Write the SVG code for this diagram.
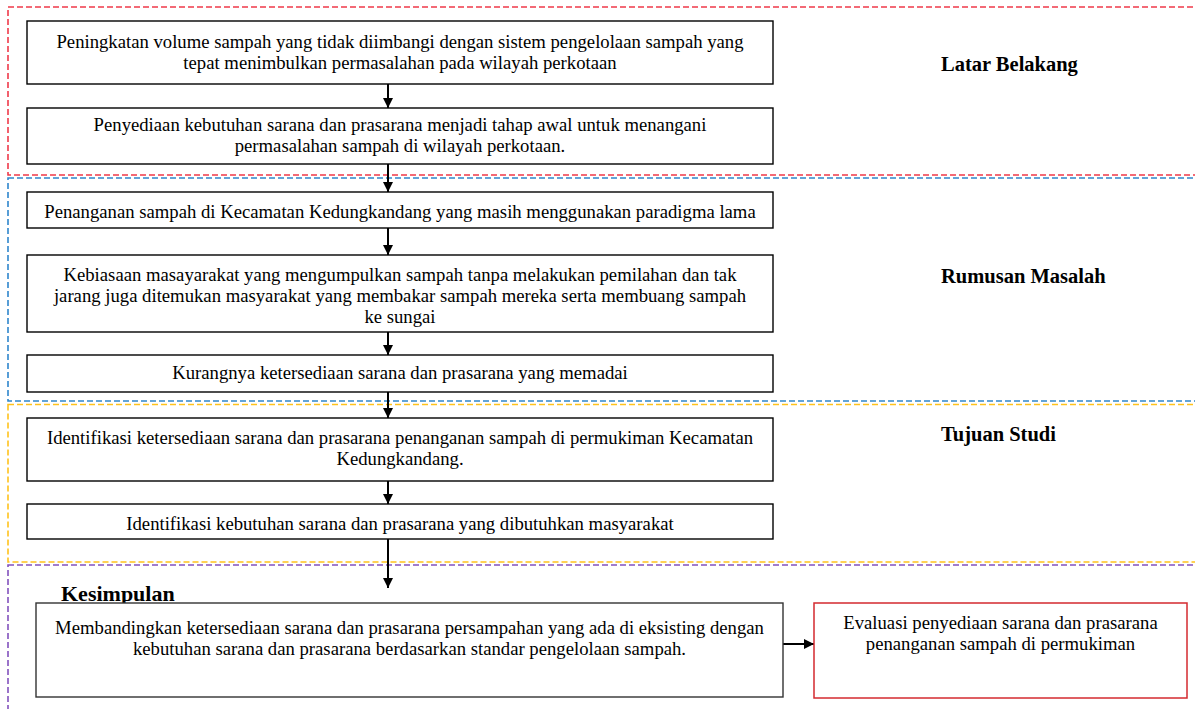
<svg xmlns="http://www.w3.org/2000/svg" width="1195" height="709" viewBox="0 0 1195 709">
<defs>
<style>
.zone{fill:none;stroke-width:1.6;stroke-dasharray:6 3}
.box{fill:#fff;stroke:#000;stroke-width:1.4}
.t{font-family:"Liberation Serif","Times New Roman",serif;font-size:18.7px;fill:#000;text-anchor:middle}
.lbl{font-family:"Liberation Serif","Times New Roman",serif;font-size:20.5px;font-weight:bold;fill:#000}
.conn{stroke:#000;stroke-width:2;fill:none;marker-end:url(#ah)}
</style>
<marker id="ah" markerUnits="userSpaceOnUse" markerWidth="11" markerHeight="11" refX="10" refY="5" orient="auto">
<path d="M0,0 L10,5 L0,10 z" fill="#000"/>
</marker>
</defs>
<rect width="1195" height="709" fill="#fff"/>
<g id="zones">
<rect class="zone" x="8" y="7" width="1200" height="168" stroke="#ef3a4a"/>
<rect class="zone" x="8" y="178" width="1200" height="223" stroke="#2f86cc"/>
<rect class="zone" x="8" y="404.5" width="1200" height="157.5" stroke="#ffc21c"/>
<rect class="zone" x="8" y="565" width="1200" height="160" stroke="#8251bd"/>
</g>
<g id="labels">
<text class="lbl" x="941" y="71">Latar Belakang</text>
<text class="lbl" x="941" y="283">Rumusan Masalah</text>
<text class="lbl" x="941" y="441">Tujuan Studi</text>
<text class="lbl" x="61" y="601" style="font-size:22px">Kesimpulan</text>
</g>
<g id="connectors">
<line class="conn" x1="388" y1="84" x2="388" y2="108"/>
<line class="conn" x1="388" y1="164" x2="388" y2="192"/>
<line class="conn" x1="388" y1="228" x2="388" y2="255"/>
<line class="conn" x1="388" y1="330" x2="388" y2="355"/>
<line class="conn" x1="388" y1="392" x2="388" y2="418"/>
<line class="conn" x1="388" y1="481" x2="388" y2="504"/>
<line class="conn" x1="388" y1="539" x2="388" y2="588"/>
<line class="conn" x1="783" y1="644" x2="814" y2="644"/>
</g>
<g id="n1">
<rect class="box" x="27" y="21" width="746" height="63"/>
<text class="t" x="400" y="48">Peningkatan volume sampah yang tidak diimbangi dengan sistem pengelolaan sampah yang</text>
<text class="t" x="400" y="69">tepat menimbulkan permasalahan pada wilayah perkotaan</text>
</g>
<g id="n2">
<rect class="box" x="27" y="108" width="746" height="56"/>
<text class="t" x="400" y="131">Penyediaan kebutuhan sarana dan prasarana menjadi tahap awal untuk menangani</text>
<text class="t" x="400" y="152">permasalahan sampah di wilayah perkotaan.</text>
</g>
<g id="n3">
<rect class="box" x="27" y="192" width="746" height="36"/>
<text class="t" x="400" y="218">Penanganan sampah di Kecamatan Kedungkandang yang masih menggunakan paradigma lama</text>
</g>
<g id="n4">
<rect class="box" x="27" y="255" width="746" height="77"/>
<text class="t" x="400" y="281">Kebiasaan masayarakat yang mengumpulkan sampah tanpa melakukan pemilahan dan tak</text>
<text class="t" x="400" y="302">jarang juga ditemukan masyarakat yang membakar sampah mereka serta membuang sampah</text>
<text class="t" x="400" y="323">ke sungai</text>
</g>
<g id="n5">
<rect class="box" x="27" y="355" width="746" height="37"/>
<text class="t" x="400" y="379">Kurangnya ketersediaan sarana dan prasarana yang memadai</text>
</g>
<g id="n6">
<rect class="box" x="27" y="418" width="746" height="63"/>
<text class="t" x="400" y="444">Identifikasi ketersediaan sarana dan prasarana penanganan sampah di permukiman Kecamatan</text>
<text class="t" x="400" y="465">Kedungkandang.</text>
</g>
<g id="n7">
<rect class="box" x="27" y="504" width="746" height="35"/>
<text class="t" x="400" y="530">Identifikasi kebutuhan sarana dan prasarana yang dibutuhkan masyarakat</text>
</g>
<g id="n8">
<rect class="box" x="36" y="603" width="747" height="94" style="stroke:#333"/>
<text class="t" x="409.5" y="634">Membandingkan ketersediaan sarana dan prasarana persampahan yang ada di eksisting dengan</text>
<text class="t" x="409.5" y="655">kebutuhan sarana dan prasarana berdasarkan standar pengelolaan sampah.</text>
</g>
<g id="n9">
<rect class="box" x="814" y="603" width="373" height="95" style="stroke:#d42a2f;stroke-width:1.5"/>
<text class="t" x="1000.5" y="629">Evaluasi penyediaan sarana dan prasarana</text>
<text class="t" x="1000.5" y="650">penanganan sampah di permukiman</text>
</g>
</svg>
